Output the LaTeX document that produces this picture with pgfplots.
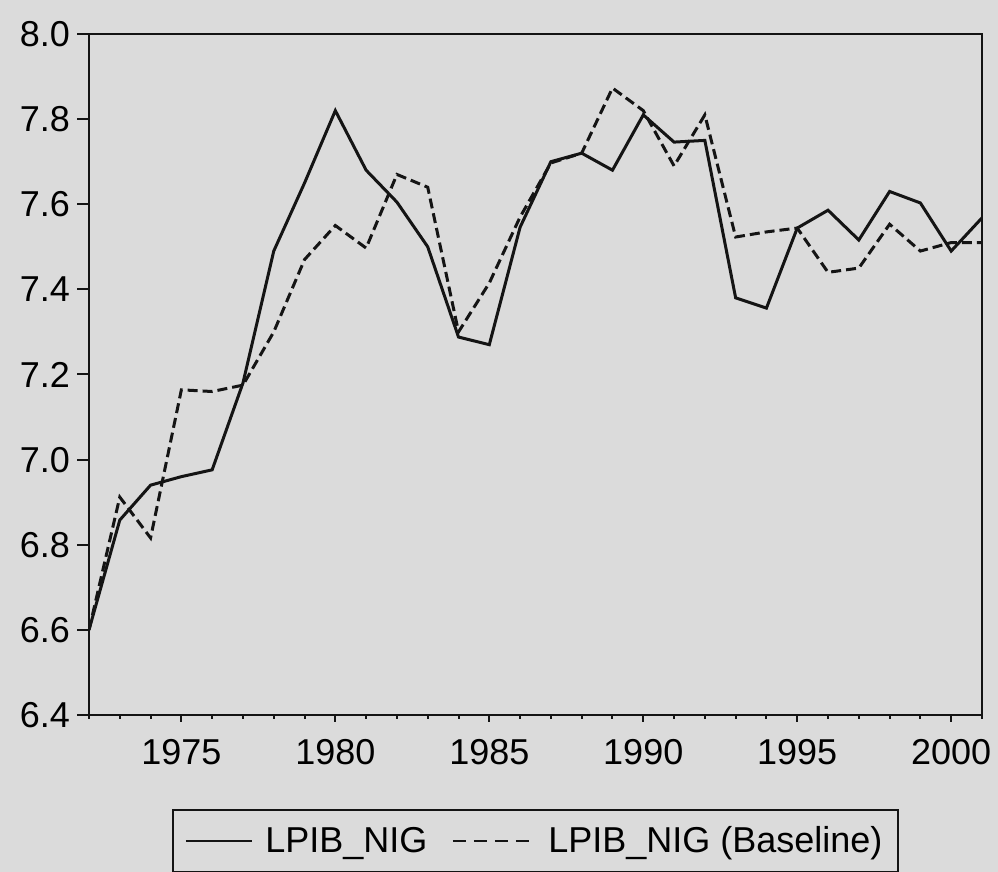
\documentclass[border=0pt]{standalone}
\usepackage{fontspec}
\setmainfont{Liberation Sans}
\usepackage{pgfplots}
\pgfplotsset{compat=1.18}
\usetikzlibrary{backgrounds,calc}
\definecolor{bgcol}{gray}{0.86}
\definecolor{ink}{gray}{0.08}

\pgfplotstableread{
year actual baseline
1972 6.600 6.600
1973 6.858 6.912
1974 6.940 6.816
1975 6.960 7.164
1976 6.976 7.160
1977 7.180 7.175
1978 7.490 7.300
1979 7.650 7.470
1980 7.820 7.550
1981 7.680 7.497
1982 7.605 7.670
1983 7.500 7.640
1984 7.288 7.300
1985 7.270 7.415
1986 7.546 7.570
1987 7.700 7.697
1988 7.720 7.720
1989 7.680 7.873
1990 7.810 7.820
1991 7.746 7.690
1992 7.750 7.810
1993 7.380 7.523
1994 7.356 7.535
1995 7.544 7.544
1996 7.586 7.440
1997 7.516 7.450
1998 7.630 7.553
1999 7.603 7.490
2000 7.490 7.510
2001 7.568 7.510
}\datatable

\pgfplotsset{common/.style={
  scale only axis,
  width=446.5pt, height=340.5pt,
  xmin=1972, xmax=2001,
  ymin=6.4, ymax=8.0,
  tick align=outside,
  xtick pos=left, ytick pos=left,
  /pgf/number format/assume math mode=true,
}}

\begin{document}
\begin{tikzpicture}
\begin{axis}[
  common,
  axis line style={ink, line width=1.4pt},
  xtick=\empty,
  ytick={6.4,6.6,6.8,7.0,7.2,7.4,7.6,7.8,8.0},
  major tick length=6pt,
  y tick style={ink, line width=1pt},
  y tick label style={/pgf/number format/.cd, fixed, fixed zerofill, precision=1, /tikz/.cd, font=\fontsize{18}{21}\selectfont},
  legend columns=2,
  legend style={at={(0.5,-0.185)}, anchor=center, draw=ink, line width=1pt, fill=bgcol,
    font=\fontsize{18}{21}\selectfont, inner xsep=6pt, inner ysep=6pt,
    /tikz/every odd column/.append style={column sep=4pt},
    /tikz/every even column/.append style={column sep=10pt}},
]
\addplot[ink, line width=1.5pt, legend image code/.code={\draw[ink, line width=1.4pt] (0pt,0pt) -- (33pt,0pt);}]
  table[x=year, y=actual] {\datatable};
\addlegendentry{LPIB\_NIG}
\addplot[ink, line width=1.5pt, dash pattern=on 5pt off 2.5pt, legend image code/.code={\draw[ink, line width=1.4pt, dash pattern=on 6.5pt off 4pt] (0pt,0pt) -- (41pt,0pt);}]
  table[x=year, y=baseline] {\datatable};
\addlegendentry{LPIB\_NIG (Baseline)}
\coordinate (sw) at (rel axis cs:0,0);
\end{axis}
\begin{axis}[
  common,
  axis line style={draw=none},
  ytick=\empty,
  xtick={1975,1980,1985,1990,1995,2000},
  minor xtick={1972,1973,...,2001},
  major tick length=3.5pt, minor tick length=2pt,
  x tick style={ink, line width=1pt},
  x tick label style={/pgf/number format/1000 sep={}, font=\fontsize{18}{21}\selectfont, yshift=-5pt},
]
\end{axis}
\begin{scope}[on background layer]
\fill[bgcol] ($(sw)+(-44.5pt,-78.5pt)$) rectangle ++(499pt,436pt);
\end{scope}
\pgfresetboundingbox
\path ($(sw)+(-44.5pt,-78.5pt)$) rectangle ++(499pt,436pt);
\end{tikzpicture}
\end{document}
